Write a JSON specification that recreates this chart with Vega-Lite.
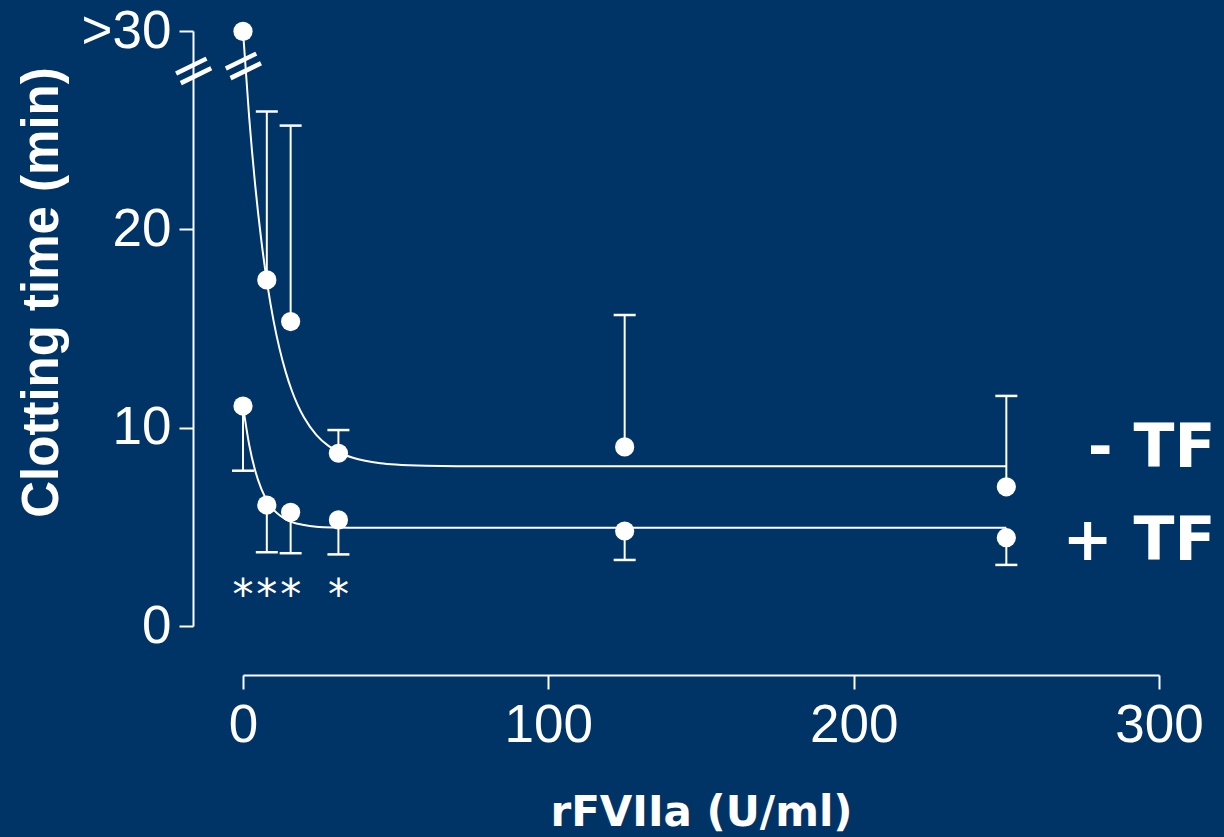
{
  "$schema": "https://vega.github.io/schema/vega-lite/v6.json",
  "width": 916,
  "height": 595,
  "autosize": {"type": "none"},
  "padding": {"left": 243, "top": 31, "right": 65, "bottom": 211},
  "background": "#003366",
  "config": {
    "view": {"stroke": null},
    "axis": {
      "domainColor": "white", "domainWidth": 2,
      "tickColor": "white", "tickWidth": 2, "tickSize": 14,
      "labelColor": "white", "labelFont": "Liberation Sans", "labelFontSize": 53,
      "titleColor": "white", "grid": false, "labelFlush": false, "labelOverlap": false
    }
  },
  "datasets": {
    "pts": [
      {"group": "-TF", "x": 0, "y": 29.98, "e": null},
      {"group": "-TF", "x": 7.8, "y": 17.45, "e": 25.94},
      {"group": "-TF", "x": 15.6, "y": 15.35, "e": 25.23},
      {"group": "-TF", "x": 31.25, "y": 8.71, "e": 9.88},
      {"group": "-TF", "x": 125, "y": 9.03, "e": 15.68},
      {"group": "-TF", "x": 250, "y": 7.02, "e": 11.6},
      {"group": "+TF", "x": 0, "y": 11.09, "e": 7.83},
      {"group": "+TF", "x": 7.8, "y": 6.1, "e": 3.72},
      {"group": "+TF", "x": 15.6, "y": 5.73, "e": 3.67},
      {"group": "+TF", "x": 31.25, "y": 5.35, "e": 3.61},
      {"group": "+TF", "x": 125, "y": 4.79, "e": 3.33},
      {"group": "+TF", "x": 250, "y": 4.45, "e": 3.08}
    ],
    "curves": [
      {"group": "-TF", "x": 0, "y": 30},
      {"group": "-TF", "x": 2, "y": 25.69},
      {"group": "-TF", "x": 4, "y": 22.22},
      {"group": "-TF", "x": 6, "y": 19.44},
      {"group": "-TF", "x": 8, "y": 17.2},
      {"group": "-TF", "x": 10, "y": 15.4},
      {"group": "-TF", "x": 12, "y": 13.96},
      {"group": "-TF", "x": 14, "y": 12.8},
      {"group": "-TF", "x": 16, "y": 11.86},
      {"group": "-TF", "x": 18, "y": 11.11},
      {"group": "-TF", "x": 20, "y": 10.51},
      {"group": "-TF", "x": 24, "y": 9.64},
      {"group": "-TF", "x": 28, "y": 9.08},
      {"group": "-TF", "x": 32, "y": 8.71},
      {"group": "-TF", "x": 36, "y": 8.48},
      {"group": "-TF", "x": 40, "y": 8.33},
      {"group": "-TF", "x": 45, "y": 8.21},
      {"group": "-TF", "x": 50, "y": 8.14},
      {"group": "-TF", "x": 60, "y": 8.08},
      {"group": "-TF", "x": 80, "y": 8.05},
      {"group": "-TF", "x": 150, "y": 8.05},
      {"group": "-TF", "x": 250, "y": 8.05},
      {"group": "+TF", "x": 0, "y": 11.1},
      {"group": "+TF", "x": 2, "y": 9.16},
      {"group": "+TF", "x": 4, "y": 7.83},
      {"group": "+TF", "x": 6, "y": 6.92},
      {"group": "+TF", "x": 8, "y": 6.3},
      {"group": "+TF", "x": 10, "y": 5.87},
      {"group": "+TF", "x": 12, "y": 5.58},
      {"group": "+TF", "x": 14, "y": 5.38},
      {"group": "+TF", "x": 16, "y": 5.24},
      {"group": "+TF", "x": 20, "y": 5.09},
      {"group": "+TF", "x": 24, "y": 5.01},
      {"group": "+TF", "x": 30, "y": 4.97},
      {"group": "+TF", "x": 40, "y": 4.95},
      {"group": "+TF", "x": 150, "y": 4.95},
      {"group": "+TF", "x": 250, "y": 4.95}
    ],
    "sig": [
      {"x": 0, "label": "*"},
      {"x": 7.8, "label": "*"},
      {"x": 15.6, "label": "*"},
      {"x": 31.25, "label": "*"}
    ],
    "legend": [
      {"label": "- TF", "x": 318.5, "y": 8.9},
      {"label": "+ TF", "x": 318.5, "y": 4.25}
    ],
    "breaks": [
      {"x": -16, "y": 27.95},
      {"x": 0.3, "y": 28.2}
    ]
  },
  "layer": [
    {
      "data": {"name": "curves"},
      "mark": {"type": "line", "color": "white", "strokeWidth": 2, "interpolate": "monotone", "clip": false},
      "encoding": {
        "x": {"field": "x", "type": "quantitative", "scale": {"domain": [0, 300], "nice": false},
          "axis": {"values": [0, 100, 200, 300], "offset": 49, "labelPadding": 10,
            "title": "rFVIIa (U/ml)", "titleFont": "DejaVu Sans", "titleFontWeight": "bold", "titleFontSize": 42,
            "titleBaseline": "alphabetic", "titleY": 150}},
        "y": {"field": "y", "type": "quantitative", "scale": {"domain": [0, 30], "nice": false},
          "axis": {"values": [0, 10, 20, 30], "offset": 50, "labelPadding": 8,
            "labelExpr": "datum.value == 30 ? '>30' : datum.label",
            "title": "Clotting time (min)", "titleFont": "Liberation Sans", "titleFontWeight": "bold", "titleFontSize": 51,
            "titleBaseline": "alphabetic", "titleX": -136, "titleY": 261}},
        "detail": {"field": "group"}
      }
    },
    {
      "data": {"name": "pts"},
      "transform": [{"filter": "datum.e != null"}],
      "mark": {"type": "rule", "color": "white", "strokeWidth": 2},
      "encoding": {
        "x": {"field": "x", "type": "quantitative"},
        "y": {"field": "y", "type": "quantitative"},
        "y2": {"field": "e"}
      }
    },
    {
      "data": {"name": "pts"},
      "transform": [{"filter": "datum.e != null"}],
      "mark": {"type": "tick", "color": "white", "orient": "horizontal", "size": 22, "thickness": 2.5, "opacity": 1},
      "encoding": {
        "x": {"field": "x", "type": "quantitative"},
        "y": {"field": "e", "type": "quantitative"}
      }
    },
    {
      "data": {"name": "pts"},
      "mark": {"type": "circle", "color": "white", "size": 370, "opacity": 1, "clip": false},
      "encoding": {
        "x": {"field": "x", "type": "quantitative"},
        "y": {"field": "y", "type": "quantitative"}
      }
    },
    {
      "data": {"name": "sig"},
      "mark": {"type": "text", "color": "white", "font": "DejaVu Sans", "fontSize": 42, "baseline": "middle", "align": "center"},
      "encoding": {
        "x": {"field": "x", "type": "quantitative"},
        "y": {"datum": 1.5},
        "text": {"field": "label"}
      }
    },
    {
      "data": {"name": "legend"},
      "mark": {"type": "text", "color": "white", "font": "DejaVu Sans", "fontWeight": "bold", "fontSize": 60, "baseline": "middle", "align": "right", "clip": false},
      "encoding": {
        "x": {"field": "x", "type": "quantitative"},
        "y": {"field": "y", "type": "quantitative"},
        "text": {"field": "label"}
      }
    },
    {
      "data": {"name": "breaks"},
      "mark": {"type": "text", "color": "white", "font": "DejaVu Sans", "fontSize": 54, "baseline": "middle", "align": "center", "angle": -26, "text": "=", "clip": false},
      "encoding": {
        "x": {"field": "x", "type": "quantitative"},
        "y": {"field": "y", "type": "quantitative"}
      }
    }
  ]
}
